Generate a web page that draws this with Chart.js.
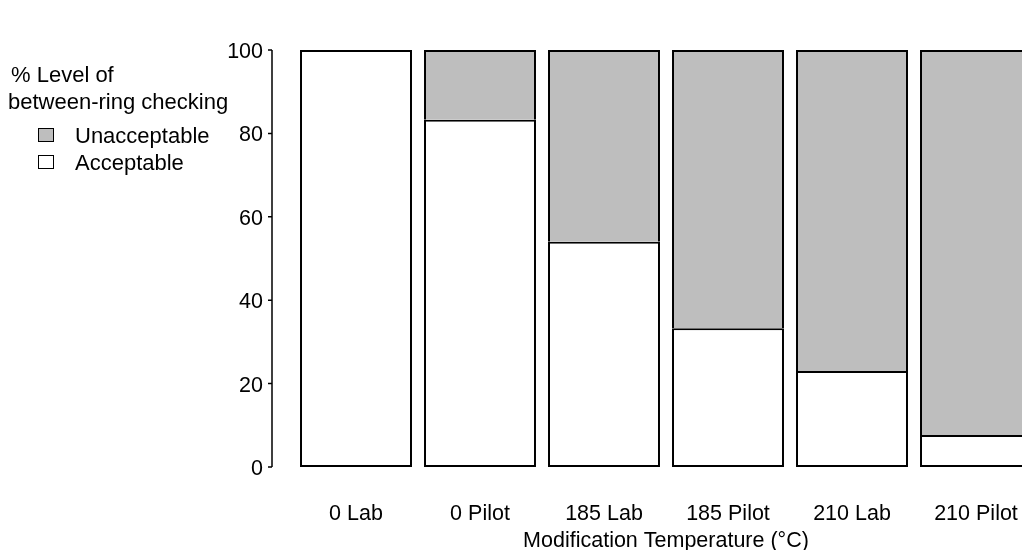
<!DOCTYPE html>
<html>
<head>
<meta charset="utf-8">
<script src="https://cdn.jsdelivr.net/npm/chart.js@4/dist/chart.umd.min.js"></script>
<style>
  html, body { margin: 0; padding: 0; background: #fff; overflow: hidden; }
  #grafico { position: absolute; left: 0; top: 0; }
  #leyenda { position: absolute; left: 0; top: 0; font-family: Arial, "Liberation Sans", sans-serif; font-size: 22px; color: #000; }
  .lt { position: absolute; white-space: nowrap; }
  .caja { position: absolute; width: 14px; height: 12px; border: 1.5px solid #000; }
</style>
</head>
<body>
<canvas id="grafico" width="1044" height="550"></canvas>
<div id="leyenda">
  <div class="lt" style="left:11px; top:62px;">% Level of</div>
  <div class="lt" style="left:8px; top:89px;">between-ring checking</div>
  <div class="caja" style="left:38px; top:128px; background:#bebebe;"></div>
  <div class="lt" style="left:75px; top:123px;">Unacceptable</div>
  <div class="caja" style="left:38px; top:155px; background:#fff;"></div>
  <div class="lt" style="left:75px; top:150px;">Acceptable</div>
</div>
<script>
  // Categorías y valores (porcentaje)
  var categorias = ['0 Lab', '0 Pilot', '185 Lab', '185 Pilot', '210 Lab', '210 Pilot'];
  var aceptable = [100, 83.3, 54, 33.3, 23, 7.7];
  var inaceptable = [0, 16.7, 46, 66.7, 77, 92.3];
  var ticksY = [0, 20, 40, 60, 80, 100];

  var fuente = 'Arial, "Liberation Sans", sans-serif';

  // Eje Y dibujado a mano, separado del área del gráfico
  var ejePlugin = {
    id: 'ejeY',
    afterDraw: function (chart) {
      var ctx = chart.ctx;
      var y = chart.scales.y;
      var x0 = chart.chartArea.left - 22;
      ctx.save();
      ctx.strokeStyle = '#000';
      ctx.lineWidth = 1.5;
      ctx.beginPath();
      ctx.moveTo(x0, y.getPixelForValue(0));
      ctx.lineTo(x0, y.getPixelForValue(100));
      ticksY.forEach(function (v) {
        var py = y.getPixelForValue(v);
        ctx.moveTo(x0 - 4, py);
        ctx.lineTo(x0, py);
      });
      ctx.stroke();
      ctx.restore();
    }
  };

  var ctx = document.getElementById('grafico').getContext('2d');
  var grafico = new Chart(ctx, {
    type: 'bar',
    data: {
      labels: categorias,
      datasets: [
        {
          label: 'Acceptable',
          data: aceptable,
          backgroundColor: '#ffffff',
          borderColor: '#000',
          borderWidth: 2,
          borderSkipped: false
        },
        {
          label: 'Unacceptable',
          data: inaceptable,
          backgroundColor: '#bebebe',
          borderColor: '#000',
          borderWidth: 2,
          borderSkipped: 'bottom'
        }
      ]
    },
    options: {
      responsive: false,
      animation: false,
      devicePixelRatio: 1,
      layout: { padding: { top: 50, right: 2, left: 0, bottom: 0 } },
      plugins: { legend: { display: false }, tooltip: { enabled: false } },
      datasets: { bar: { categoryPercentage: 0.903, barPercentage: 1 } },
      scales: {
        x: {
          stacked: true,
          grid: { display: false },
          border: { display: false },
          ticks: { color: '#000', font: { family: fuente, size: 21.5 }, padding: 26, maxRotation: 0 },
          title: { display: true, text: 'Modification Temperature (°C)', color: '#000', font: { family: fuente, size: 21.5, lineHeight: 1 }, padding: { top: 0, bottom: -2 } },
          afterFit: function (s) { s.height = 83; }
        },
        y: {
          stacked: true,
          min: 0,
          max: 100,
          grid: { display: false },
          border: { display: false },
          afterBuildTicks: function (s) { s.ticks = ticksY.map(function (v) { return { value: v }; }); },
          ticks: { color: '#000', font: { family: fuente, size: 21.5 }, padding: 23, labelOffset: 2 },
          afterFit: function (s) { s.width = 294; }
        }
      }
    },
    plugins: [ejePlugin]
  });
</script>
</body>
</html>
